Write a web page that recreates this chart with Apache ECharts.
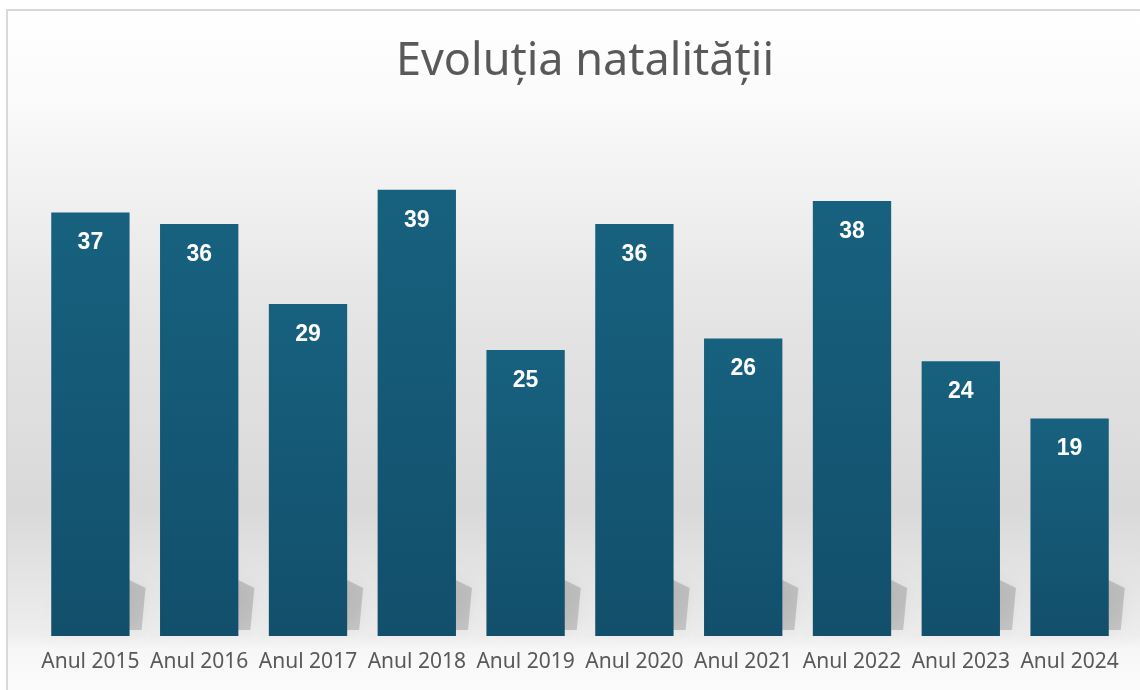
<!DOCTYPE html>
<html>
<head>
<meta charset="utf-8">
<script src="https://cdn.jsdelivr.net/npm/echarts@6/dist/echarts.min.js"></script>
<style>
  html, body { margin: 0; padding: 0; background: #fff; }
  #chart { width: 1140px; height: 690px; }
</style>
</head>
<body>
<div id="chart"></div>
<script>
var years = ['Anul 2015', 'Anul 2016', 'Anul 2017', 'Anul 2018', 'Anul 2019',
  'Anul 2020', 'Anul 2021', 'Anul 2022', 'Anul 2023', 'Anul 2024']
var births = [37, 36, 29, 39, 25, 36, 26, 38, 24, 19]

var chart = echarts.init(document.getElementById('chart'))

// umbra in perspectiva de la baza fiecarei coloane
var shadowItem = function(params, api) {
  var base = api.coord([api.value(0), 0])
  var band = api.size([1, 0])[0]
  var half = band * 0.36
  var x0 = base[0] - half
  var x1 = base[0] + half
  var yb = base[1]
  return {
    type: 'polygon',
    shape: {
      points: [[x0 + 6, yb - 6], [x1 + 12, yb - 6], [x1 + 16, yb - 48], [x0 + 30, yb - 80]]
    },
    style: {
      fill: 'rgba(0,0,0,0.16)',
      shadowBlur: 16,
      shadowColor: 'rgba(0,0,0,0.3)'
    },
    silent: true
  }
}

chart.setOption({
  animation: false,
  graphic: [{
    type: 'rect',
    z: -10,
    silent: true,
    shape: { x: 7, y: 10, width: 1140, height: 690 },
    style: {
      fill: new echarts.graphic.LinearGradient(0, 0, 0, 1, [
        { offset: 0, color: '#ffffff' },
        { offset: 0.12, color: '#fbfbfb' },
        { offset: 0.45, color: '#e4e4e4' },
        { offset: 0.72, color: '#d9d9d9' },
        { offset: 0.905, color: '#eeeeee' },
        { offset: 0.925, color: '#f7f7f7' },
        { offset: 1, color: '#fcfcfc' }
      ]),
      stroke: '#d9d9d9',
      lineWidth: 2
    }
  }],
  title: {
    text: 'Evoluția natalității',
    left: 580,
    textAlign: 'center',
    top: 35,
    textStyle: {
      fontFamily: 'Noto Sans',
      fontSize: 45,
      fontWeight: 'normal',
      color: '#595959'
    }
  },
  grid: {
    left: 36,
    right: 16,
    top: 121,
    bottom: 54
  },
  xAxis: {
    type: 'category',
    data: years,
    axisLine: { show: false },
    axisTick: { show: false },
    axisLabel: {
      margin: 16,
      fontFamily: 'Noto Sans',
      fontSize: 21,
      color: '#595959',
      interval: 0
    }
  },
  yAxis: {
    type: 'value',
    min: 0,
    max: 45,
    show: false,
    splitLine: { show: false }
  },
  series: [
    {
      type: 'custom',
      renderItem: shadowItem,
      data: births.map(function(v, i) { return [i, v] }),
      z: 1
    },
    {
      type: 'bar',
      data: births,
      barWidth: '72%',
      z: 3,
      itemStyle: {
        color: new echarts.graphic.LinearGradient(0, 0, 0, 1, [
          { offset: 0, color: '#17617f' },
          { offset: 1, color: '#124f6b' }
        ])
      },
      label: {
        show: true,
        position: 'insideTop',
        distance: 19,
        color: '#ffffff',
        fontFamily: 'Liberation Sans',
        fontWeight: 'bold',
        fontSize: 23
      }
    }
  ]
})
</script>
</body>
</html>
